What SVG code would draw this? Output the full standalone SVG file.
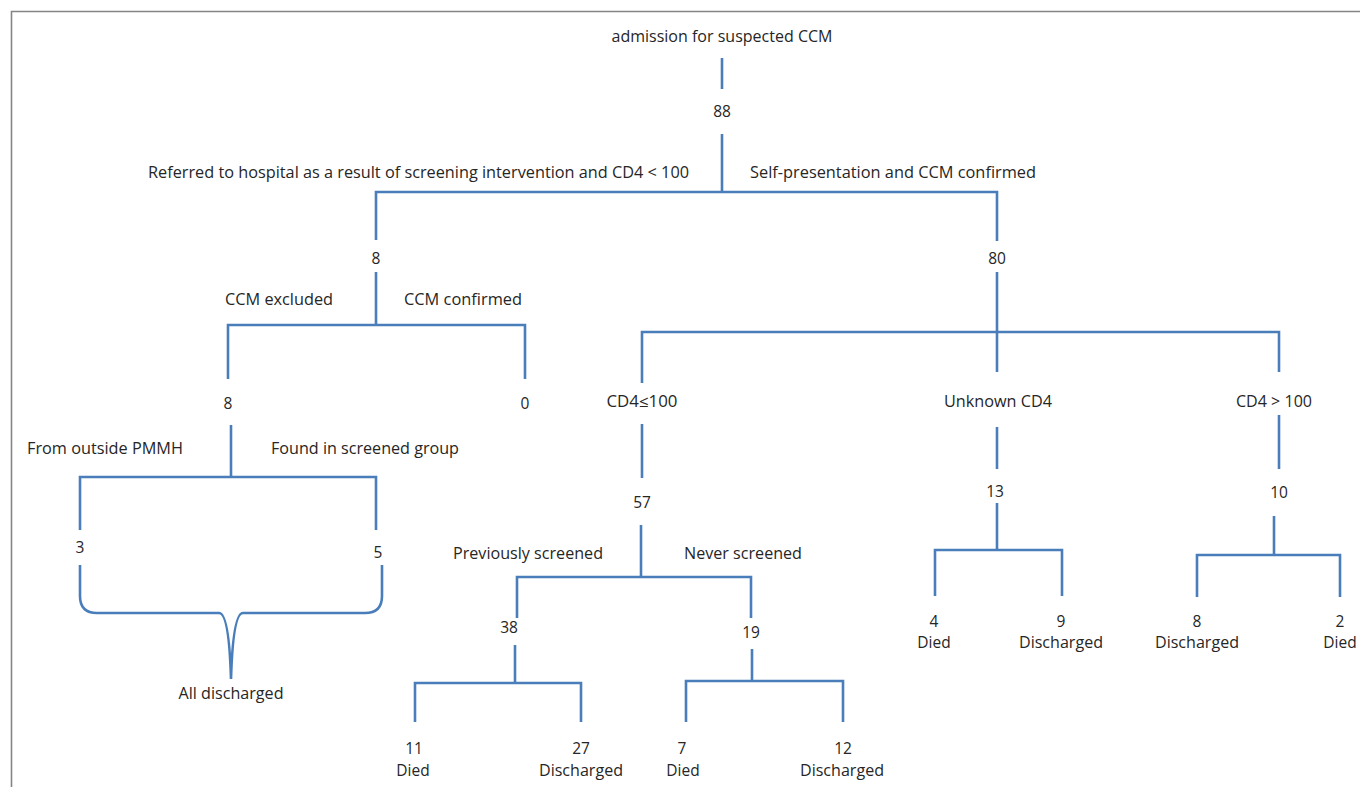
<svg xmlns="http://www.w3.org/2000/svg" width="1360" height="787" viewBox="0 0 1360 787">
<style>
.t{font-family:"Open Sans","Liberation Sans",sans-serif;font-size:15.5px;fill:#262626;text-anchor:middle}
.c{fill:none;stroke:#4A7EBB;stroke-width:2.6;stroke-linejoin:miter}
.frame{fill:none;stroke:#858585;stroke-width:1.6}
</style>
<rect x="0" y="0" width="1360" height="787" fill="#ffffff"/>
<path class="frame" d="M11.5 787 V11.5 H1360"/>
<g id="connectors">
<path class="c" d="M722 58 V89"/>
<path class="c" d="M722 134 V192"/>
<path class="c" d="M376 240 V192 H997 V241"/>
<path class="c" d="M376 272 V325"/>
<path class="c" d="M228 379 V325 H525 V379"/>
<path class="c" d="M231 425 V477"/>
<path class="c" d="M80 530 V477 H376 V530"/>
<path class="c" d="M80 565 V596 Q80 613 97 613 H219 Q229 613 231 679 Q233 613 243 613 H365 Q382 613 382 596 V565"/>
<path class="c" d="M997 272 V372"/>
<path class="c" d="M642 383 V332 H1279 V372"/>
<path class="c" d="M642 424 V478"/>
<path class="c" d="M997 427 V469"/>
<path class="c" d="M1279 415 V469"/>
<path class="c" d="M641 525 V577"/>
<path class="c" d="M517 618 V577 H751 V618"/>
<path class="c" d="M515 645 V683"/>
<path class="c" d="M415 722 V683 H581 V722"/>
<path class="c" d="M752 649 V681"/>
<path class="c" d="M686 722 V681 H843 V722"/>
<path class="c" d="M997 503 V550"/>
<path class="c" d="M935 596 V550 H1062 V596"/>
<path class="c" d="M1274 516 V555"/>
<path class="c" d="M1197 597 V555 H1340 V597"/>
</g>
<g id="n-root"><text class="t" x="722" y="42" textLength="221" lengthAdjust="spacingAndGlyphs">admission for suspected CCM</text></g>
<g id="n-88"><text class="t" x="722" y="117">88</text></g>
<g id="l-referred"><text class="t" x="418.5" y="178" textLength="541" lengthAdjust="spacingAndGlyphs">Referred to hospital as a result of screening intervention and CD4 &lt; 100</text></g>
<g id="l-self"><text class="t" x="893" y="178" textLength="286" lengthAdjust="spacingAndGlyphs">Self-presentation and CCM confirmed</text></g>
<g id="n-8a"><text class="t" x="376" y="264">8</text></g>
<g id="n-80"><text class="t" x="997" y="264">80</text></g>
<g id="l-excluded"><text class="t" x="279" y="305" textLength="108" lengthAdjust="spacingAndGlyphs">CCM excluded</text></g>
<g id="l-confirmed"><text class="t" x="463" y="305" textLength="118" lengthAdjust="spacingAndGlyphs">CCM confirmed</text></g>
<g id="n-8b"><text class="t" x="228" y="409">8</text></g>
<g id="n-0"><text class="t" x="525" y="409">0</text></g>
<g id="l-outside"><text class="t" x="105" y="454" textLength="156" lengthAdjust="spacingAndGlyphs">From outside PMMH</text></g>
<g id="l-found"><text class="t" x="365" y="454" textLength="188" lengthAdjust="spacingAndGlyphs">Found in screened group</text></g>
<g id="n-3"><text class="t" x="80" y="553">3</text></g>
<g id="n-5"><text class="t" x="378" y="558">5</text></g>
<g id="n-alldis"><text class="t" x="231" y="699" textLength="105" lengthAdjust="spacingAndGlyphs">All discharged</text></g>
<g id="n-cd4le"><text class="t" x="642" y="407" textLength="71" lengthAdjust="spacingAndGlyphs">CD4≤100</text></g>
<g id="n-unknown"><text class="t" x="998" y="407" textLength="108" lengthAdjust="spacingAndGlyphs">Unknown CD4</text></g>
<g id="n-cd4gt"><text class="t" x="1274" y="407" textLength="76" lengthAdjust="spacingAndGlyphs">CD4 &gt; 100</text></g>
<g id="n-57"><text class="t" x="642" y="508">57</text></g>
<g id="n-13"><text class="t" x="995" y="497">13</text></g>
<g id="n-10"><text class="t" x="1279" y="498">10</text></g>
<g id="l-prev"><text class="t" x="528" y="559" textLength="150" lengthAdjust="spacingAndGlyphs">Previously screened</text></g>
<g id="l-never"><text class="t" x="743" y="559" textLength="118" lengthAdjust="spacingAndGlyphs">Never screened</text></g>
<g id="n-38"><text class="t" x="509" y="633">38</text></g>
<g id="n-19"><text class="t" x="751" y="638">19</text></g>
<g id="n-11"><text class="t" x="414" y="754">11</text><text class="t" x="413" y="776">Died</text></g>
<g id="n-27"><text class="t" x="581" y="754">27</text><text class="t" x="581" y="776" textLength="84" lengthAdjust="spacingAndGlyphs">Discharged</text></g>
<g id="n-7"><text class="t" x="682" y="754">7</text><text class="t" x="683" y="776">Died</text></g>
<g id="n-12"><text class="t" x="843" y="754">12</text><text class="t" x="842" y="776" textLength="84" lengthAdjust="spacingAndGlyphs">Discharged</text></g>
<g id="n-4"><text class="t" x="934" y="627">4</text><text class="t" x="934" y="648">Died</text></g>
<g id="n-9"><text class="t" x="1061" y="627">9</text><text class="t" x="1061" y="648" textLength="84" lengthAdjust="spacingAndGlyphs">Discharged</text></g>
<g id="n-8c"><text class="t" x="1197" y="627">8</text><text class="t" x="1197" y="648" textLength="84" lengthAdjust="spacingAndGlyphs">Discharged</text></g>
<g id="n-2"><text class="t" x="1340" y="627">2</text><text class="t" x="1340" y="648">Died</text></g>
</svg>
